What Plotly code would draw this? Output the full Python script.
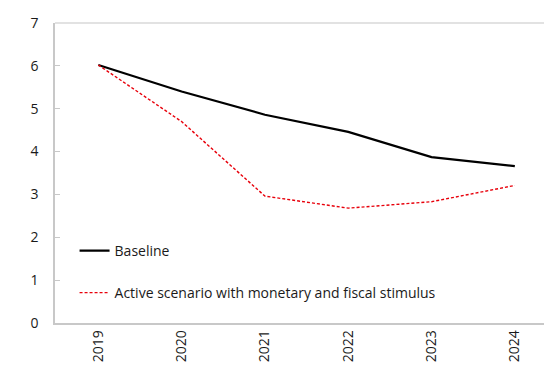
import plotly.graph_objects as go

years = ["2019", "2020", "2021", "2022", "2023", "2024"]
baseline = [6.02, 5.40, 4.86, 4.46, 3.87, 3.66]
active = [6.02, 4.70, 2.96, 2.68, 2.83, 3.21]

FONT = "Open Sans, Noto Sans, sans-serif"
AXIS_GRAY = "#c8c8c8"

fig = go.Figure()
fig.add_trace(go.Scatter(
    x=list(range(len(years))), y=baseline, mode="lines", name="Baseline",
    line=dict(color="#000000", width=2.2), legend="legend", showlegend=True,
))
fig.add_trace(go.Scatter(
    x=list(range(len(years))), y=active, mode="lines",
    name="Active scenario with monetary and fiscal stimulus",
    line=dict(color="#e8000b", width=1.4, dash="3px,2px"), legend="legend2",
    showlegend=True,
))

legend_common = dict(
    xanchor="left", yanchor="middle", bgcolor="rgba(0,0,0,0)",
    font=dict(family=FONT, size=14, color="#1a1a1a"), itemwidth=30,
)

fig.update_layout(
    width=544, height=371,
    margin=dict(l=55, r=0, t=23, b=48),
    plot_bgcolor="white", paper_bgcolor="white",
    showlegend=True,
    font=dict(family=FONT, size=14, color="#1a1a1a"),
    legend=dict(x=0.04, y=0.24, visible=True, **legend_common),
    legend2=dict(x=0.04, y=0.10, visible=True, **legend_common),
    xaxis=dict(
        range=[-0.52, 5.35], tickmode="array",
        tickvals=list(range(len(years))), ticktext=years,
        tickangle=-90, showgrid=False, zeroline=False,
        showline=True, linecolor=AXIS_GRAY, linewidth=1.5,
        ticks="", tickfont=dict(family=FONT, size=14, color="#1a1a1a"),
    ),
    yaxis=dict(
        range=[0, 7], dtick=1, showgrid=False, zeroline=False,
        showline=True, linecolor=AXIS_GRAY, linewidth=1.5,
        ticks="inside", ticklen=5, tickcolor=AXIS_GRAY, tickwidth=1,
        ticklabelstandoff=12,
        tickfont=dict(family=FONT, size=14, color="#1a1a1a"),
    ),
    shapes=[dict(
        type="line", xref="paper", yref="paper", x0=0, x1=1, y0=1, y1=1,
        line=dict(color="#d9d9d9", width=1.5),
    )],
)

fig.write_html("out.html")
